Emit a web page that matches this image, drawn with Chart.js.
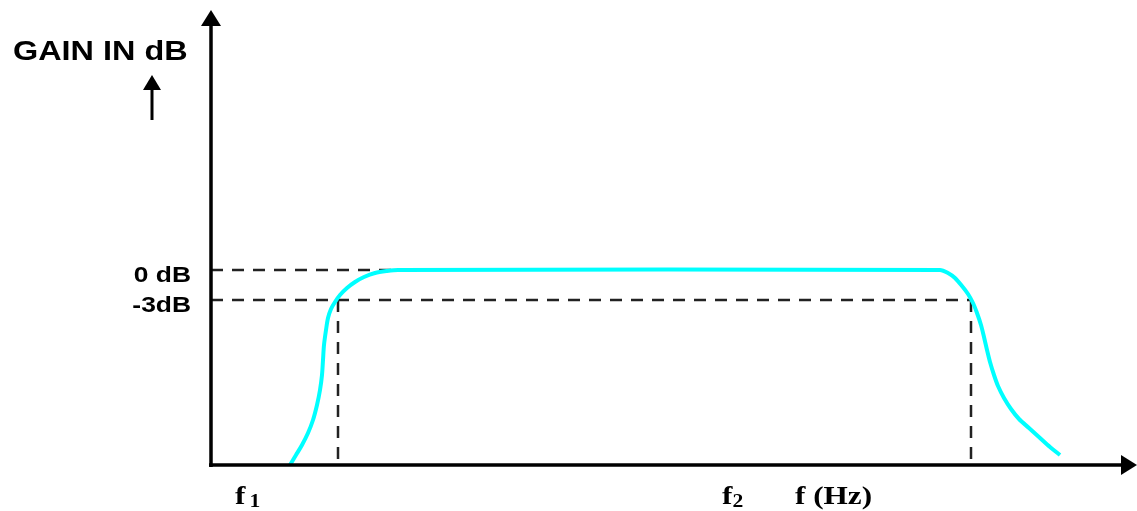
<!DOCTYPE html>
<html>
<head>
<meta charset="utf-8">
<script src="https://cdn.jsdelivr.net/npm/chart.js@4.4.0/dist/chart.umd.min.js"></script>
<style>
html, body { margin: 0; padding: 0; background: #fff; }
#wrap { position: relative; width: 1137px; height: 511px; }
</style>
</head>
<body>
<div id="wrap"><canvas id="gain_plot"></canvas></div>
<script>
'use strict';

// band-pass response (x: frequency units, y: gain units above the axis)
const responseX = [79, 85, 91, 97, 102, 106, 109, 111, 112, 113, 115, 117, 120, 124, 129, 136,
                   144, 153, 164, 176, 187,
                   729, 737, 744, 751, 757, 762, 766, 770, 773, 776, 779, 783, 787, 793, 800,
                   808, 818, 829, 839, 849];
const responseY = [0, 10, 20, 32, 45, 60, 75, 90, 105, 120, 135, 147, 156, 163, 170, 177,
                   183, 188, 192, 194, 195,
                   195, 192, 187, 179, 171, 162, 152, 140, 128, 115, 103, 90, 79, 67, 56,
                   46, 37, 27, 18, 10];

const level0dB = 195;
const level3dB = 165;
const f1 = 127;
const f2 = 760;
const xEnd = 926;
const yEnd = 455;

const yTickValues = [level0dB, level3dB];
const yTickLabels = ['0 dB', '-3dB'];

const xLabelValues = [24, 511, 584];
const xLabelMain = ['f', 'f', 'f (Hz)'];
const xLabelSub = ['1', '2', ''];

const dashStyle = {
    borderColor: '#222',
    borderWidth: 2.5,
    borderDash: [12, 9],
    pointRadius: 0,
    fill: false,
    order: 1
};

function stretchText(ctx, text, x, y, align) {
    ctx.save();
    ctx.translate(x, y);
    ctx.scale(1.2, 1);
    ctx.textAlign = align;
    ctx.fillText(text, 0, 0);
    ctx.restore();
}

function arrowHead(ctx, x, y, dir) {
    // dir: 'up' or 'right', (x, y) is the tip
    ctx.beginPath();
    if (dir == 'up') {
        ctx.moveTo(x, y);
        ctx.lineTo(x - 10, y + 16);
        ctx.lineTo(x + 10, y + 16);
    } else {
        ctx.moveTo(x, y);
        ctx.lineTo(x - 16, y - 10);
        ctx.lineTo(x - 16, y + 10);
    }
    ctx.closePath();
    ctx.fill();
}

const axesPlugin = {
    id: 'axes',
    afterDatasetsDraw(chart) {
        const {ctx, scales: {x, y}} = chart;
        const x0 = x.getPixelForValue(0);
        const y0 = y.getPixelForValue(0);
        const xTop = x.getPixelForValue(xEnd);
        const yTop = y.getPixelForValue(yEnd);

        ctx.save();
        ctx.strokeStyle = '#000';
        ctx.fillStyle = '#000';
        ctx.lineWidth = 3.5;

        ctx.beginPath();
        ctx.moveTo(x0, y0 + 2);
        ctx.lineTo(x0, yTop + 10);
        ctx.moveTo(x0 - 2, y0);
        ctx.lineTo(xTop - 10, y0);
        ctx.stroke();
        arrowHead(ctx, x0, yTop, 'up');
        arrowHead(ctx, xTop, y0, 'right');

        // small arrow under the title
        ctx.lineWidth = 3;
        ctx.beginPath();
        ctx.moveTo(152, 120);
        ctx.lineTo(152, 86);
        ctx.stroke();
        ctx.beginPath();
        ctx.moveTo(152, 75);
        ctx.lineTo(143, 90);
        ctx.lineTo(161, 90);
        ctx.closePath();
        ctx.fill();

        ctx.textBaseline = 'alphabetic';
        ctx.font = 'bold 27px "Liberation Sans", Arial, sans-serif';
        stretchText(ctx, 'GAIN IN dB', 13, 60, 'left');

        ctx.font = 'bold 22px "Liberation Sans", Arial, sans-serif';
        yTickValues.forEach((v, i) => {
            stretchText(ctx, yTickLabels[i], 191, y.getPixelForValue(v) + 12, 'right');
        });

        xLabelValues.forEach((v, i) => {
            const px = x.getPixelForValue(v);
            ctx.font = 'bold 26px "Liberation Serif", "Times New Roman", serif';
            stretchText(ctx, xLabelMain[i], px, 504, 'left');
            if (xLabelSub[i]) {
                const w = ctx.measureText(xLabelMain[i]).width * 1.2;
                ctx.font = 'bold 18px "Liberation Serif", "Times New Roman", serif';
                stretchText(ctx, xLabelSub[i], px + w + (i == 0 ? 4 : 0), 507, 'left');
            }
        });
        ctx.restore();
    }
};

const gain_plot = new Chart('gain_plot', {
    type: 'line',
    data: {
        datasets: [{
            label: 'Gain',
            data: responseX.map((v, i) => ({x: v, y: responseY[i]})),
            borderColor: '#00ffff',
            borderWidth: 4,
            pointRadius: 0,
            tension: 0.3,
            fill: false,
            order: 0
        }, Object.assign({
            label: '0 dB',
            data: [{x: 0, y: level0dB}, {x: 182, y: level0dB}]
        }, dashStyle), Object.assign({
            label: '-3 dB',
            data: [{x: 0, y: level3dB}, {x: f2, y: level3dB}]
        }, dashStyle), Object.assign({
            label: 'f1',
            data: [{x: f1, y: level3dB}, {x: f1, y: 0}]
        }, dashStyle), Object.assign({
            label: 'f2',
            data: [{x: f2, y: level3dB}, {x: f2, y: 0}]
        }, dashStyle)]
    },
    options: {
        responsive: true,
        maintainAspectRatio: false,
        animation: false,
        layout: {padding: {left: 211, top: 10, right: 0, bottom: 46}},
        plugins: {legend: {display: false}, tooltip: {enabled: false}},
        scales: {
            x: {type: 'linear', min: 0, max: xEnd, display: false},
            y: {type: 'linear', min: 0, max: yEnd, display: false}
        }
    },
    plugins: [axesPlugin]
});
</script>
</body>
</html>
